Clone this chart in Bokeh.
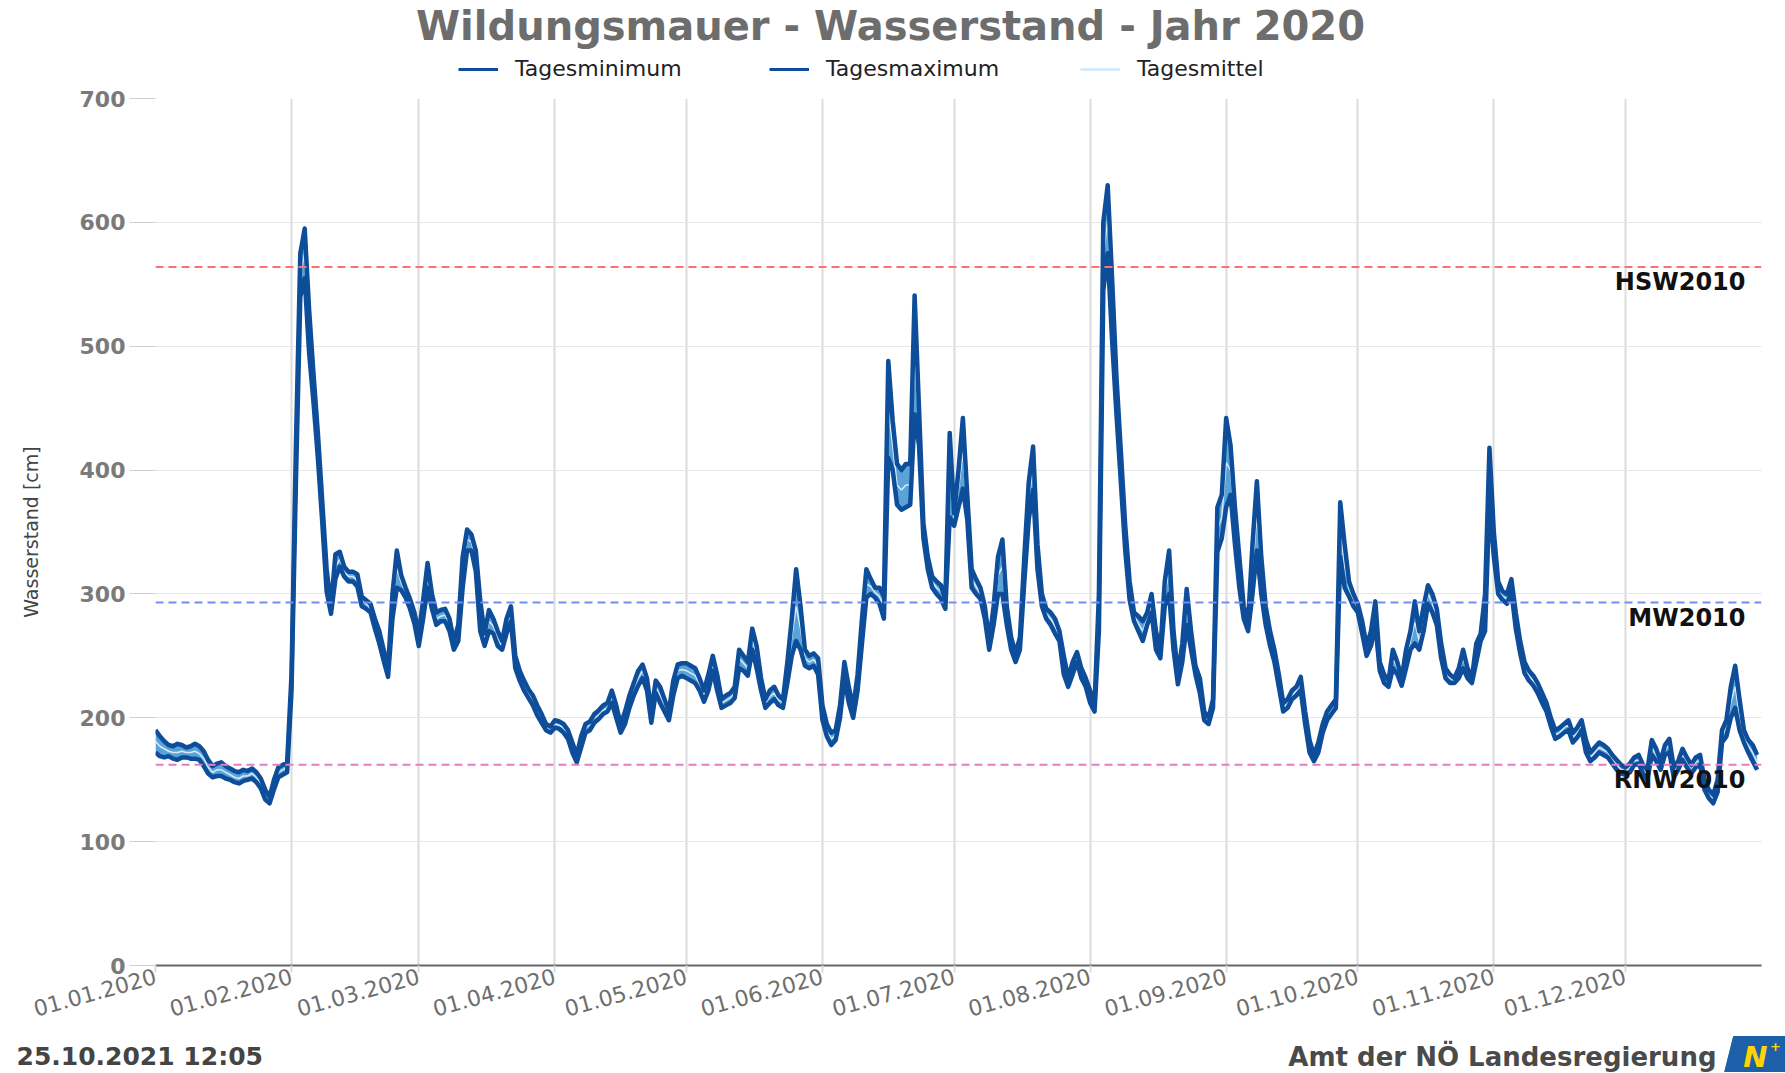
import pandas as pd
from bokeh.plotting import figure
from bokeh.layouts import column
from bokeh.models import (ColumnDataSource, Span, Label, Legend, LegendItem,
                          FixedTicker, DatetimeTickFormatter, Range1d)
from bokeh.core.properties import value
from bokeh.embed import file_html
from bokeh.resources import INLINE

# ---------------- data (cm), one value per day of 2020 ----------------
tages_max = [
    # Jan
    190,185,181,178,177,179,178,176,177,179,177,173,166,161,163,164,161,159,157,156,
    158,157,159,156,151,142,136,150,160,162,164,
    # Feb
    235,420,575,595,530,478,430,375,320,290,332,334,322,318,318,316,298,295,292,280,
    270,255,240,300,335,315,305,296,285,
    # Mar
    268,295,325,300,285,287,288,280,262,275,330,352,348,335,295,268,287,280,270,262,
    280,290,250,238,230,223,218,210,203,195,193,
    # Apr
    198,197,195,190,180,170,185,195,197,203,206,210,212,222,210,195,205,218,228,238,
    243,232,205,230,225,215,205,230,243,244,
    # May
    244,242,240,232,222,235,250,235,215,218,220,225,255,250,245,272,258,232,215,222,
    225,218,215,245,280,320,290,255,250,252,248,
    # Jun
    210,195,188,190,210,245,225,208,235,280,320,312,305,305,298,488,440,405,400,405,
    405,541,450,357,330,314,310,307,295,430,
    # Jul
    365,400,442,380,320,312,305,290,262,290,330,344,290,265,252,265,330,390,419,340,
    300,288,285,280,270,250,232,245,253,240,232,
    # Aug
    222,210,300,600,630,555,475,415,355,310,285,282,278,285,300,270,255,310,335,270,
    235,260,304,270,242,232,205,200,215,370,380,
    # Sep
    442,420,370,330,290,278,340,391,330,290,270,255,235,212,215,222,225,233,205,182,
    170,180,195,205,210,215,374,340,310,300,
    # Oct
    292,278,258,270,294,245,235,230,255,245,232,255,270,294,270,290,307,300,288,260,
    240,235,232,240,255,240,232,260,268,300,418,
    # Nov
    350,310,302,300,312,285,262,245,238,234,228,220,212,200,190,192,195,198,188,192,
    198,182,172,176,180,178,175,170,166,162,
    # Dec
    160,163,168,170,162,158,182,175,165,178,183,160,165,175,168,162,168,170,150,142,
    138,150,190,198,225,242,215,190,182,178,170,
]

tages_min = [
    # Jan
    172,169,168,169,167,166,168,168,167,167,166,161,155,152,153,153,151,150,148,147,
    149,150,151,148,143,134,131,142,152,154,156,
    # Feb
    222,390,540,555,495,455,410,358,302,284,312,322,314,310,310,306,290,288,285,272,
    260,246,233,280,305,303,297,288,276,
    # Mar
    258,280,305,288,275,278,278,270,255,262,305,335,335,318,270,258,270,268,258,255,
    268,278,240,230,222,216,210,202,196,190,188,
    # Apr
    192,191,188,183,172,164,176,188,190,196,199,203,205,212,200,188,195,208,218,226,
    232,222,196,220,212,205,198,218,232,234,
    # May
    232,230,228,222,213,222,238,222,208,210,212,216,240,238,234,255,240,222,208,212,
    215,210,208,228,250,262,255,242,240,242,235,
    # Jun
    198,185,178,182,200,232,212,200,222,260,297,300,297,292,280,410,400,372,368,370,
    372,445,420,345,320,305,300,296,288,362,
    # Jul
    355,370,385,360,305,300,296,280,255,275,300,300,275,255,245,255,310,360,384,320,
    290,280,275,268,262,235,225,235,245,232,225,
    # Aug
    212,205,270,545,575,505,445,390,335,295,278,270,262,275,285,255,248,290,300,255,
    227,245,275,255,235,220,198,195,208,334,345,
    # Sep
    370,380,340,305,280,270,300,335,300,275,258,245,225,205,208,215,218,222,195,172,
    165,172,188,198,203,208,330,305,298,290,
    # Oct
    285,268,250,258,275,238,228,225,240,235,226,240,255,260,255,270,292,285,275,248,
    232,228,228,232,240,232,228,245,262,270,375,
    # Nov
    330,300,295,292,302,272,252,236,230,226,220,212,205,193,183,185,188,190,180,184,
    190,172,165,168,172,170,168,163,158,155,
    # Dec
    154,156,162,163,155,150,170,165,158,170,172,152,158,166,160,155,160,162,142,135,
    131,140,180,185,200,208,190,180,172,165,158,
]

tages_mittel = [
    # Jan
    181,177,175,173,172,172,173,172,172,173,171,167,160,156,158,158,156,154,152,151,
    153,153,155,152,147,138,133,146,156,158,160,
    # Feb
    228,405,558,575,512,466,420,366,311,287,322,328,318,314,314,311,294,292,288,276,
    265,250,236,290,320,309,301,292,280,
    # Mar
    263,288,315,294,280,282,283,275,258,268,318,344,342,326,282,263,278,274,264,258,
    274,284,245,234,226,220,214,206,200,192,190,
    # Apr
    195,194,192,186,176,167,180,192,194,200,202,206,208,217,205,192,200,213,223,232,
    238,227,200,225,218,210,202,224,238,239,
    # May
    238,236,234,227,218,228,244,228,212,214,216,220,248,244,240,264,249,227,212,217,
    220,214,212,236,265,290,272,248,245,247,242,
    # Jun
    204,190,183,186,205,238,218,204,228,270,308,306,301,298,289,449,420,388,384,388,
    388,493,435,351,325,310,305,302,292,396,
    # Jul
    360,385,414,370,312,306,300,285,258,282,315,322,282,260,248,260,320,375,402,330,
    295,284,280,274,266,242,228,240,249,236,228,
    # Aug
    217,208,285,572,602,530,460,402,345,302,282,276,270,280,292,262,252,300,318,262,
    231,252,290,262,238,226,202,198,212,352,362,
    # Sep
    406,400,355,318,285,274,320,363,315,282,264,250,230,208,212,218,222,228,200,177,
    168,176,192,202,206,212,352,322,304,295,
    # Oct
    288,273,254,264,284,242,232,228,248,240,229,248,262,277,262,280,300,292,282,254,
    236,232,230,236,248,236,230,252,265,285,396,
    # Nov
    340,305,298,296,307,278,257,240,234,230,224,216,208,196,186,188,192,194,184,188,
    194,177,168,172,176,174,172,166,162,158,
    # Dec
    157,160,165,166,158,154,176,170,162,174,178,156,162,170,164,158,164,166,146,138,
    134,145,185,192,212,225,202,185,177,172,164,
]

ref_names = ["HSW2010", "MW2010", "RNW2010"]
ref_values = [564, 293, 162]
ref_colors = ["#ff6f6f", "#6f8ff2", "#e47cc6"]

series_names = ["Tagesminimum", "Tagesmaximum", "Tagesmittel"]
title_text = "Wildungsmauer - Wasserstand - Jahr 2020"
stamp_text = "25.10.2021 12:05"
org_text = "Amt der NÖ Landesregierung"

dates = pd.date_range("2020-01-01", "2020-12-31", freq="D")
assert len(tages_max) == len(tages_min) == len(tages_mittel) == len(dates) == 366

month_starts = pd.date_range("2020-01-01", "2020-12-01", freq="MS")
tick_ms = [int(d.value // 10**6) for d in month_starts]

src = ColumnDataSource(dict(date=dates, tmax=tages_max, tmin=tages_min, tmean=tages_mittel))

FONT = "DejaVu Sans"
LINE = "#0d4d99"
MEAN = "#d8e9f7"
W = 1785
H_HEAD = 82
FL, FR = 155, 1761           # frame left / right (page px)
FRAME_H = 867                # frame 98 .. 965
TOP_B = 98 - H_HEAD
BOT_B = 70
H_MAIN = TOP_B + FRAME_H + BOT_B
H_FOOT = 1072 - H_HEAD - H_MAIN


def blank(h):
    f = figure(width=W, height=h, output_backend="svg", toolbar_location=None,
               x_range=Range1d(0, W), y_range=Range1d(0, h),
               x_axis_location=None, y_axis_location=None,
               min_border=0, min_border_left=0, min_border_right=0,
               min_border_top=0, min_border_bottom=0)
    f.frame_align = False
    f.title_location = None
    f.outline_line_color = None
    f.grid.visible = False
    f.background_fill_color = "white"
    f.border_fill_color = "white"
    return f


# ---------------- header: title + legend ----------------
head = blank(H_HEAD)
head.text(x=[890], y=[H_HEAD - 25], text=[title_text], text_align="center",
          text_baseline="middle", text_font=value(FONT), text_font_style="bold",
          text_font_size="40px", text_color="#6d6d6d")
# legend keys for the three series (same data; the header's range keeps them out of view)
k_min = head.line("date", "tmin", source=src, line_color=LINE, line_width=3)
k_max = head.line("date", "tmax", source=src, line_color=LINE, line_width=3)
k_mean = head.line("date", "tmean", source=src, line_color=MEAN, line_width=3)
legend = Legend(items=[LegendItem(label=series_names[0], renderers=[k_min]),
                       LegendItem(label=series_names[1], renderers=[k_max]),
                       LegendItem(label=series_names[2], renderers=[k_mean])],
                orientation="horizontal", location=(458, 1),
                padding=0, margin=0, spacing=16, label_standoff=17,
                glyph_width=40, glyph_height=20, label_width=238,
                border_line_color=None, background_fill_alpha=0,
                label_text_font=FONT, label_text_font_size="22px",
                label_text_color="#222222")
head.add_layout(legend)

# ---------------- main chart ----------------
p = figure(width=W, height=H_MAIN, output_backend="svg", toolbar_location=None,
           x_axis_type="datetime",
           x_range=Range1d(pd.Timestamp("2020-01-01"), pd.Timestamp("2021-01-01")),
           y_range=Range1d(0, 700),
           min_border_left=FL, min_border_right=W - FR,
           min_border_top=TOP_B, min_border_bottom=BOT_B)
p.frame_align = False
p.title_location = None
p.outline_line_color = None
p.background_fill_color = "white"
p.border_fill_color = "white"

p.xaxis.ticker = FixedTicker(ticks=tick_ms)
fmt = "%d.%m.%Y"
p.xaxis.formatter = DatetimeTickFormatter(
    microseconds=fmt, milliseconds=fmt, seconds=fmt, minsec=fmt, minutes=fmt,
    hourmin=fmt, hours=fmt, days=fmt, months=fmt, years=fmt)
p.xaxis.major_label_orientation = 0.27
p.xaxis.major_label_text_font = FONT
p.xaxis.major_label_text_font_size = "22px"
p.xaxis.major_label_text_color = "#6e6e6e"
p.xaxis.axis_line_color = "#666666"
p.xaxis.axis_line_width = 2
p.xaxis.major_tick_in = 0
p.xaxis.major_tick_out = 7
p.xaxis.major_tick_line_color = "#dddddd"
p.xaxis.major_tick_line_width = 2
p.xaxis.minor_tick_line_color = None
p.xaxis.major_label_standoff = 3

p.yaxis.ticker = FixedTicker(ticks=[0, 100, 200, 300, 400, 500, 600, 700])
p.yaxis.major_label_text_font = FONT
p.yaxis.major_label_text_font_size = "22px"
p.yaxis.major_label_text_font_style = "bold"
p.yaxis.major_label_text_color = "#7a7a7a"
p.yaxis.axis_line_color = None
p.yaxis.major_tick_in = 0
p.yaxis.major_tick_out = 26
p.yaxis.major_tick_line_color = "#d0d0d0"
p.yaxis.minor_tick_line_color = None
p.yaxis.major_label_standoff = 4
p.yaxis.axis_label = "Wasserstand [cm]"
p.yaxis.axis_label_text_font = FONT
p.yaxis.axis_label_text_font_size = "19px"
p.yaxis.axis_label_text_font_style = "normal"
p.yaxis.axis_label_text_color = "#444444"
p.yaxis.axis_label_standoff = 35

p.xgrid.grid_line_color = "#dcdcdc"
p.xgrid.grid_line_width = 2
p.ygrid.grid_line_color = "#e6e6e6"
p.ygrid.grid_line_width = 1

for name, val, col in zip(ref_names, ref_values, ref_colors):
    p.add_layout(Span(location=val, dimension="width", line_color=col,
                      line_width=2, line_dash="8 5"))
    p.add_layout(Label(x=1590, y=val, x_units="screen", y_units="data", text=name,
                       text_align="right", text_baseline="top", y_offset=-1,
                       text_font=FONT, text_font_style="bold",
                       text_font_size="24px", text_color="#111111"))

p.varea(x="date", y1="tmin", y2="tmax", source=src, fill_color="#5aa3d8")
p.line("date", "tmean", source=src, line_color=MEAN, line_width=1.5)
p.line("date", "tmin", source=src, line_color=LINE, line_width=4.5, line_join="round")
p.line("date", "tmax", source=src, line_color=LINE, line_width=4.5, line_join="round")

# ---------------- footer ----------------
foot = blank(H_FOOT)
foot.text(x=[16], y=[16], text=[stamp_text], text_align="left",
          text_baseline="middle", text_font=value(FONT), text_font_style="bold",
          text_font_size="25px", text_color="#444444")
foot.text(x=[1716], y=[16], text=[org_text], text_align="right",
          text_baseline="middle", text_font=value(FONT), text_font_style="bold",
          text_font_size="26px", text_color="#4a4a4a")
foot.patch(x=[1724, 1733, 1785, 1785], y=[0, H_FOOT - 1, H_FOOT - 1, 0], color="#1d5fa8")
foot.text(x=[1755], y=[16], text=["N"], text_align="center", text_baseline="middle",
          text_font=value(FONT), text_font_style="bold italic", text_font_size="29px",
          text_color="#ffd400")
foot.text(x=[1775], y=[26], text=["+"], text_align="center", text_baseline="middle",
          text_font=value(FONT), text_font_style="bold", text_font_size="13px",
          text_color="#ffd400")

layout = column(head, p, foot, spacing=0)
open("out.html", "w").write(file_html(layout, INLINE))
